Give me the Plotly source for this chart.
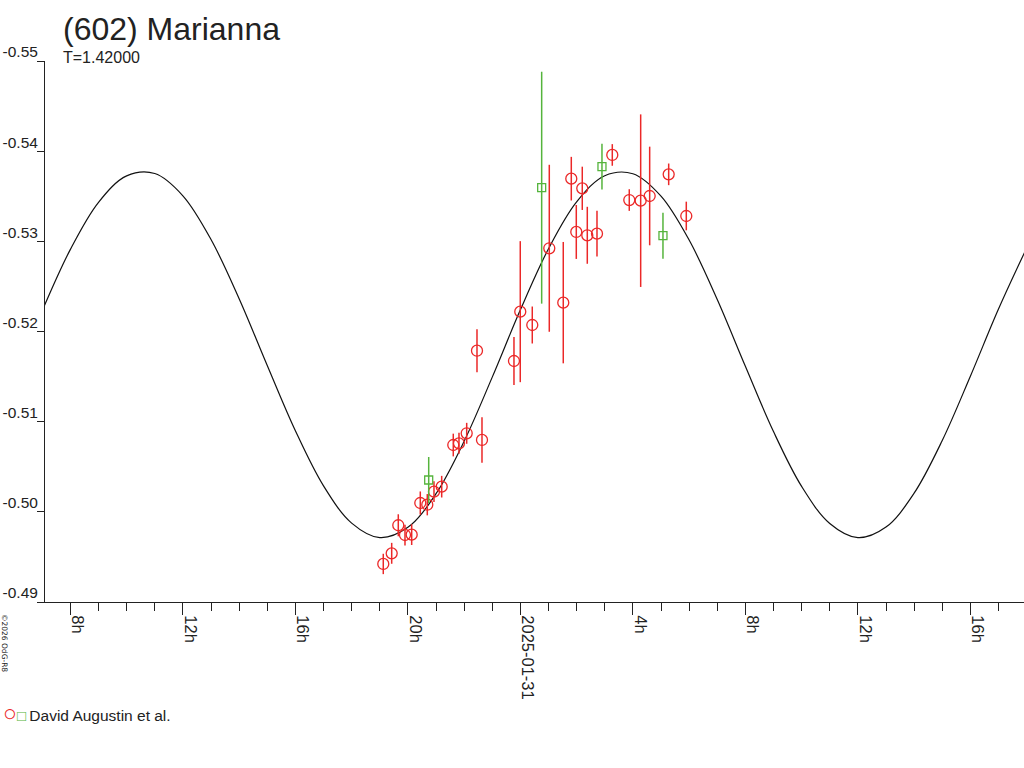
import pandas as pd
import plotly.graph_objects as go

# ---- data (hours relative to 2025-01-31 00:00 UT, reduced magnitude) ----
EPOCH = pd.Timestamp("2025-01-31 00:00:00")

red_hours = [-4.875, -4.576, -4.341, -4.103, -3.865, -3.559, -3.310, -3.072, -2.798,
             -2.386, -2.183, -1.909, -1.543, -1.365, -0.228, -0.004, 0.423, 1.028,
             1.525, 1.810, 1.988, 2.201, 2.379, 2.724, 3.268, 3.872, 4.277, 4.597,
             5.273, 5.899]
red_mag = [-0.49422, -0.49540, -0.49851, -0.49743, -0.49747, -0.50098, -0.50079,
           -0.50224, -0.50279, -0.50741, -0.50760, -0.50871, -0.51787, -0.50797,
           -0.51673, -0.52220, -0.52072, -0.52923, -0.52320, -0.53695, -0.53104,
           -0.53588, -0.53067, -0.53085, -0.53958, -0.53458, -0.53451, -0.53503,
           -0.53743, -0.53281]
red_err = [0.00113, 0.00116, 0.00122, 0.00115, 0.00115, 0.00128, 0.00118, 0.00115,
           0.00120, 0.00126, 0.00116, 0.00116, 0.00238, 0.00253, 0.00266, 0.00782,
           0.00205, 0.00926, 0.00673, 0.00242, 0.00299, 0.00240, 0.00316, 0.00253,
           0.00120, 0.00120, 0.00957, 0.00547, 0.00120, 0.00159]

green_hours = [-3.260, 0.757, 2.901, 5.070]
green_mag = [-0.50353, -0.53595, -0.53828, -0.53063]
green_err = [0.00255, 0.01286, 0.00253, 0.00255]

fit_hours = list(range(-17, 19))
fit_mag = [-0.52231, -0.52911, -0.53433, -0.53726, -0.53752, -0.53505, -0.53020,
           -0.52364, -0.51623, -0.50899, -0.50288, -0.49875, -0.49714, -0.49828,
           -0.50201, -0.50783, -0.51494, -0.52240, -0.52918, -0.53438, -0.53728,
           -0.53750, -0.53501, -0.53014, -0.52355, -0.51614, -0.50890, -0.50282,
           -0.49871, -0.49714, -0.49831, -0.50207, -0.50791, -0.51504, -0.52249,
           -0.52925]

y_ticks = [-0.55, -0.54, -0.53, -0.52, -0.51, -0.50, -0.49]
y_tick_text = ["-0.55", "-0.54", "-0.53", "-0.52", "-0.51", "-0.50", "-0.49"]
x_tick_hours = [-16, -12, -8, -4, 0, 4, 8, 12, 16]
x_tick_text = ["8h", "12h", "16h", "20h", "2025-01-31", "4h", "8h", "12h", "16h"]
x_range_hours = [-16.903, 17.907]

title_text = "(602) Marianna"
subtitle_text = "T=1.42000"
legend_text = "David Augustin et al."
copyright_text = "©2026 OdG-R8"


def to_time(hours):
    return [EPOCH + pd.Timedelta(hours=h) for h in hours]


RED = "rgb(235,40,40)"
GREEN = "rgb(85,180,60)"
FONT = "Liberation Sans, Arial, sans-serif"

FIG_W, FIG_H = 1024, 768
ML, MT = 45, 61
PLOT_W, PLOT_H = FIG_W - ML, 541


def px(xpage):
    return (xpage - ML) / PLOT_W


def py(ypage):
    return 1 - (ypage - MT) / PLOT_H


fig = go.Figure()

fig.add_trace(go.Scatter(
    x=to_time(fit_hours), y=fit_mag, mode="lines",
    line=dict(color="#111", width=1.2, shape="spline"),
    hoverinfo="skip", showlegend=False))

fig.add_trace(go.Scatter(
    x=to_time(red_hours), y=red_mag, mode="markers",
    marker=dict(symbol="circle-open", size=11, color=RED, line=dict(width=1.3, color=RED)),
    error_y=dict(type="data", array=red_err, visible=True, color=RED, thickness=1.5, width=0),
    showlegend=False))

fig.add_trace(go.Scatter(
    x=to_time(green_hours), y=green_mag, mode="markers",
    marker=dict(symbol="square-open", size=8, color=GREEN, line=dict(width=1.3, color=GREEN)),
    error_y=dict(type="data", array=green_err, visible=True, color=GREEN, thickness=1.5, width=0),
    showlegend=False))

fig.update_layout(
    width=FIG_W, height=FIG_H,
    margin=dict(l=ML, r=0, t=MT, b=FIG_H - MT - PLOT_H, autoexpand=False),
    paper_bgcolor="white", plot_bgcolor="white",
    font=dict(family=FONT, color="#222", size=15),
    showlegend=False,
)

fig.update_xaxes(
    range=to_time(x_range_hours), automargin=False,
    tickmode="array", tickvals=to_time(x_tick_hours), ticktext=x_tick_text,
    tickangle=90, ticks="outside", ticklen=12, tickcolor="#222", tickwidth=1,
    ticklabelshift=7, ticklabelstandoff=-3,
    minor=dict(tickmode="linear", tick0=EPOCH, dtick=3600000, ticks="outside", ticklen=8,
               tickcolor="#222", tickwidth=1, showgrid=False),
    showline=True, linecolor="#222", linewidth=1, showgrid=False, zeroline=False,
    tickfont=dict(size=16.5, color="#222"),
)

fig.update_yaxes(
    range=[-0.49, -0.55], automargin=False,
    tickmode="array", tickvals=y_ticks, ticktext=y_tick_text,
    ticks="outside", ticklen=7, tickcolor="#222", tickwidth=1,
    ticklabelshift=9, ticklabelstandoff=-4,
    showline=True, linecolor="#222", linewidth=1, showgrid=False, zeroline=False,
    tickfont=dict(size=15.5, color="#222"),
)

fig.add_annotation(text=title_text, xref="paper", yref="paper",
                   x=px(61), y=py(29), xanchor="left", yanchor="middle",
                   showarrow=False, font=dict(size=32, color="#222", family=FONT))
fig.add_annotation(text=subtitle_text, xref="paper", yref="paper",
                   x=px(61), y=py(58), xanchor="left", yanchor="middle",
                   showarrow=False, font=dict(size=16, color="#222", family=FONT))
fig.add_annotation(text=(f'<span style="color:{RED};font-size:23px">○</span>'
                         f'<span style="color:{GREEN};font-size:15px">□</span>'
                         f'<span style="font-size:12px"> </span>{legend_text}'),
                   xref="paper", yref="paper",
                   x=px(1), y=py(713), xanchor="left", yanchor="middle",
                   showarrow=False, font=dict(size=15.5, color="#222", family=FONT))
fig.add_annotation(text=copyright_text, xref="paper", yref="paper",
                   x=px(5), y=py(612), xanchor="center", yanchor="top",
                   textangle=90, showarrow=False,
                   font=dict(size=7.5, color="#222", family="DejaVu Sans"))

fig.write_html("out.html", config={"displayModeBar": False},
               post_script="document.body.style.margin='0';")
